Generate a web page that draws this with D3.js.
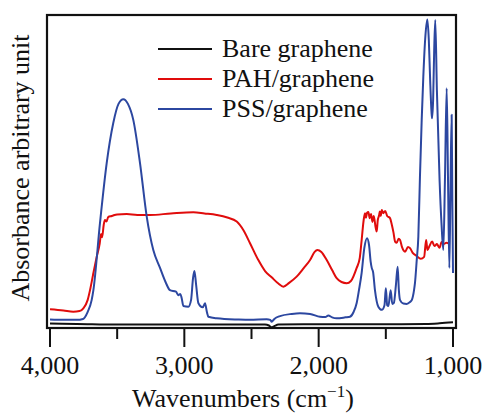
<!DOCTYPE html>
<html>
<head>
<meta charset="utf-8">
<script src="https://cdn.jsdelivr.net/npm/d3@7"></script>
<style>
  body { margin: 0; background: #fff; }
  svg text { font-family: "Liberation Serif", "Times New Roman", serif; fill: #111; }
</style>
</head>
<body>
<svg id="chart" width="486" height="413"></svg>
<script>
// wavenumber (cm-1), absorbance (arbitrary, 0..1)
const bare = [
  [4000,0.014],[3800,0.013],[3500,0.011],[3000,0.011],[2500,0.011],[2400,0.011],
  [2370,0.008],[2350,0.002],[2330,0.006],[2300,0.011],[2000,0.012],[1500,0.012],
  [1200,0.013],[1100,0.015],[1000,0.018]
];

const pah = [
  [4000,0.060],[3900,0.056],[3827,0.052],[3780,0.054],[3752,0.063],[3720,0.089],
  [3702,0.121],[3680,0.169],[3652,0.228],[3630,0.270],[3620,0.300],[3612,0.290],
  [3600,0.330],[3591,0.345],[3580,0.340],[3566,0.355],[3540,0.358],[3500,0.363],
  [3429,0.364],[3350,0.361],[3256,0.361],[3100,0.366],[2933,0.370],[2850,0.366],
  [2759,0.361],[2680,0.353],[2610,0.340],[2561,0.313],[2511,0.271],[2449,0.217],
  [2399,0.182],[2350,0.162],[2300,0.142],[2263,0.132],[2220,0.144],[2164,0.164],
  [2110,0.192],[2064,0.217],[2030,0.243],[2010,0.249],[1980,0.243],[1940,0.217],
  [1900,0.185],[1866,0.159],[1830,0.147],[1791,0.143],[1760,0.150],[1717,0.192],
  [1694,0.224],[1680,0.281],[1665,0.345],[1655,0.367],[1648,0.352],[1640,0.368],
  [1630,0.371],[1620,0.351],[1610,0.364],[1600,0.339],[1590,0.358],[1575,0.319],
  [1568,0.308],[1560,0.345],[1550,0.360],[1545,0.372],[1538,0.358],[1530,0.377],
  [1519,0.367],[1505,0.374],[1490,0.358],[1469,0.351],[1455,0.329],[1444,0.307],
  [1430,0.275],[1419,0.272],[1405,0.285],[1394,0.281],[1380,0.259],[1357,0.244],
  [1335,0.259],[1320,0.255],[1300,0.240],[1270,0.230],[1240,0.221],[1215,0.227],
  [1200,0.281],[1190,0.249],[1175,0.262],[1155,0.276],[1138,0.262],[1120,0.268],
  [1100,0.256],[1085,0.275],[1070,0.268],[1050,0.272],[1035,0.271]
];

const pss = [
  [4000,0.027],[3900,0.026],[3800,0.026],[3754,0.029],[3720,0.051],[3690,0.089],
  [3677,0.121],[3628,0.335],[3578,0.527],[3529,0.655],[3490,0.716],[3454,0.731],
  [3420,0.716],[3380,0.665],[3330,0.527],[3280,0.356],[3231,0.249],[3181,0.192],
  [3140,0.147],[3107,0.121],[3062,0.116],[3045,0.105],[3030,0.109],[3020,0.096],
  [3007,0.070],[2970,0.068],[2950,0.089],[2935,0.160],[2925,0.182],[2912,0.137],
  [2896,0.080],[2863,0.066],[2846,0.079],[2832,0.051],[2821,0.036],[2759,0.031],
  [2600,0.027],[2511,0.026],[2387,0.028],[2360,0.026],[2350,0.020],[2330,0.029],
  [2288,0.038],[2200,0.045],[2139,0.047],[2064,0.045],[1990,0.036],[1950,0.035],
  [1928,0.040],[1900,0.034],[1866,0.031],[1800,0.034],[1767,0.036],[1740,0.051],
  [1717,0.080],[1700,0.121],[1680,0.176],[1660,0.256],[1640,0.287],[1625,0.265],
  [1613,0.212],[1605,0.192],[1595,0.179],[1581,0.121],[1556,0.068],[1530,0.058],
  [1510,0.073],[1500,0.127],[1490,0.073],[1481,0.070],[1464,0.121],[1452,0.077],
  [1440,0.080],[1425,0.137],[1412,0.196],[1403,0.121],[1394,0.089],[1370,0.078],
  [1345,0.077],[1320,0.083],[1307,0.089],[1290,0.121],[1283,0.144],[1270,0.217],
  [1258,0.292],[1246,0.483],[1233,0.665],[1221,0.803],[1205,0.936],[1191,0.986],
  [1180,0.920],[1170,0.792],[1160,0.690],[1156,0.670],[1148,0.728],[1140,0.888],
  [1132,0.984],[1120,0.760],[1100,0.473],[1085,0.329],[1072,0.249],[1060,0.473],
  [1047,0.766],[1037,0.473],[1027,0.192],[1019,0.441],[1010,0.681],[1005,0.409],
  [1000,0.176]
];

const series = [
  {name: 'Bare graphene', data: bare, color: '#111111'},
  {name: 'PAH/graphene',  data: pah,  color: '#e00c0c'},
  {name: 'PSS/graphene',  data: pss,  color: '#2c47a0'}
];
const majorTicks = [4000, 3000, 2000, 1000];
const minorTicks = [3500, 2500, 1500];

const svg = d3.select('#chart');
const frame = {left: 47, right: 456, top: 15, bottom: 328};

const x = d3.scaleLinear().domain([4000, 1000]).range([50, 453]);
const y = d3.scaleLinear().domain([0, 1]).range([frame.bottom, frame.top]);

const line = d3.line()
    .x(d => x(d[0]))
    .y(d => y(d[1]))
    .curve(d3.curveMonotoneX);

const plot = svg.append('g');
// bare first so it sits underneath, then PAH, then PSS on top
series.forEach(s => {
  plot.append('path')
      .datum(s.data)
      .attr('fill', 'none')
      .attr('stroke', s.color)
      .attr('stroke-width', 2)
      .attr('stroke-linejoin', 'round')
      .attr('d', line);
});

// frame
svg.append('rect')
    .attr('x', frame.left)
    .attr('y', frame.top)
    .attr('width', frame.right - frame.left)
    .attr('height', frame.bottom - frame.top)
    .attr('fill', 'none')
    .attr('stroke', '#111')
    .attr('stroke-width', 2.2);

// ticks below the frame
const axis = svg.append('g');
axis.selectAll('line.major')
  .data(majorTicks)
  .join('line')
    .attr('class', 'major')
    .attr('x1', d => x(d)).attr('x2', d => x(d))
    .attr('y1', frame.bottom).attr('y2', frame.bottom + 19)
    .attr('stroke', '#111').attr('stroke-width', 2);
axis.selectAll('line.minor')
  .data(minorTicks)
  .join('line')
    .attr('class', 'minor')
    .attr('x1', d => x(d)).attr('x2', d => x(d))
    .attr('y1', frame.bottom).attr('y2', frame.bottom + 11)
    .attr('stroke', '#111').attr('stroke-width', 2);
axis.selectAll('text')
  .data(majorTicks)
  .join('text')
    .attr('x', d => x(d))
    .attr('y', 374)
    .attr('text-anchor', 'middle')
    .style('font-size', '26px')
    .text(d3.format(','));

// axis titles
const xt = svg.append('text')
    .attr('x', 243)
    .attr('y', 407)
    .attr('text-anchor', 'middle')
    .style('font-size', '26px');
xt.append('tspan').text('Wavenumbers (cm');
xt.append('tspan').attr('dy', -10).style('font-size', '17px').text('\u22121');
xt.append('tspan').attr('dy', 10).text(')');

svg.append('text')
    .attr('transform', 'translate(29,168) rotate(-90)')
    .attr('text-anchor', 'middle')
    .style('font-size', '26px')
    .text('Absorbance arbitrary unit');

// legend
const legend = svg.append('g');
series.forEach((s, i) => {
  const ly = 49 + i * 30;
  legend.append('line')
      .attr('x1', 158).attr('x2', 212)
      .attr('y1', ly).attr('y2', ly)
      .attr('stroke', s.color).attr('stroke-width', 2);
  legend.append('text')
      .attr('x', 222)
      .attr('y', ly + 8)
      .style('font-size', '26px')
      .text(s.name);
});
</script>
</body>
</html>
